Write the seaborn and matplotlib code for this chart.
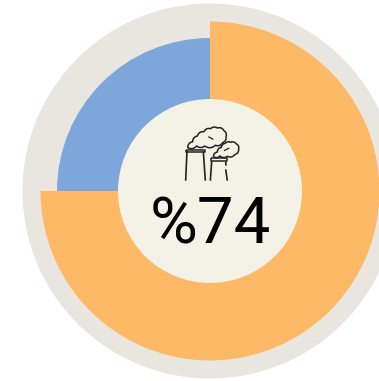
import matplotlib
matplotlib.use("Agg")
import matplotlib.pyplot as plt
from matplotlib.patches import Circle, PathPatch
from matplotlib.path import Path
import seaborn as sns

categories = ["Orange share", "Blue share"]
values = [75, 25]
label = "%74"
palette = sns.color_palette(["#FEB966", "#7DA7DA"])

W, H = 379, 381
sns.set_theme(style="white")
plt.rcParams["font.family"] = ["Roboto", "DejaVu Sans"]
fig = plt.figure(figsize=(W / 100, H / 100), dpi=100, facecolor="white")
ax = fig.add_axes([0, 0, 1, 1])
cx, cy = 210, H - 191

ax.add_patch(Circle((cx, cy), 187.5, fc="#E8E6DF", ec="none", zorder=1))
ax.pie(values, colors=[palette[0], "none"], radius=169.5, center=(cx, cy),
       startangle=90, counterclock=False, wedgeprops=dict(linewidth=0, zorder=2))
ax.pie(values, colors=["none", palette[1]], radius=153, center=(cx, cy),
       startangle=90, counterclock=False, wedgeprops=dict(linewidth=0, zorder=2))
ax.add_patch(Circle((cx, cy), 92, fc="#F4F2E6", ec="none", zorder=3))


def P(x3, y3):
    return (x3 / 3, H - y3 / 3)


def stroke(points, lw=1.1):
    xs = [P(*p) for p in points]
    ax.plot([p[0] for p in xs], [p[1] for p in xs], color="#222222", lw=lw,
            solid_capstyle="butt", zorder=4)


def cloud(points, bulge=0.45, lw=1.1):
    verts = [P(*points[0])]
    codes = [Path.MOVETO]
    for a, b in zip(points[:-1], points[1:]):
        a2, b2 = P(*a), P(*b)
        dx, dy = b2[0] - a2[0], b2[1] - a2[1]
        ctrl = ((a2[0] + b2[0]) / 2 - dy * bulge, (a2[1] + b2[1]) / 2 + dx * bulge)
        verts += [ctrl, b2]
        codes += [Path.CURVE3, Path.CURVE3]
    ax.add_patch(PathPatch(Path(verts, codes), fc="none", ec="#222222", lw=lw, zorder=4))


# Factory icon: chimney 1
stroke([(561, 452), (557, 542)], lw=1.2)
stroke([(610, 455), (616, 542)], lw=1.2)
stroke([(559, 449), (614, 449), (614, 455), (559, 455), (559, 449)], lw=1.1)
# chimney 2
stroke([(635, 484), (631, 542)], lw=1.2)
stroke([(677, 508), (682, 542)], lw=1.2)
stroke([(677, 484), (678, 497)], lw=1.2)
stroke([(632, 474), (682, 474), (682, 483), (632, 483), (632, 474)], lw=1.1)
# smoke
cloud([(563, 443), (578, 425), (592, 408), (612, 395), (632, 386), (652, 384),
       (672, 392), (678, 410), (668, 428), (646, 436), (614, 438), (590, 438), (563, 443)], bulge=0.4)
cloud([(640, 470), (652, 456), (664, 442), (676, 430), (692, 427), (708, 431), (716, 447),
       (704, 464), (682, 469), (660, 468), (640, 470)], bulge=0.4)
stroke([(625, 410), (640, 418)], lw=0.9)
stroke([(672, 452), (688, 444)], lw=0.9)

ax.text(210, H - 244, label, ha="center", va="baseline", fontsize=47,
        fontweight="regular", color="black", zorder=5)

ax.set_xlim(0, W)
ax.set_ylim(0, H)
ax.set_aspect("equal")
ax.axis("off")
fig.savefig("out.png", dpi=100, facecolor="white")
